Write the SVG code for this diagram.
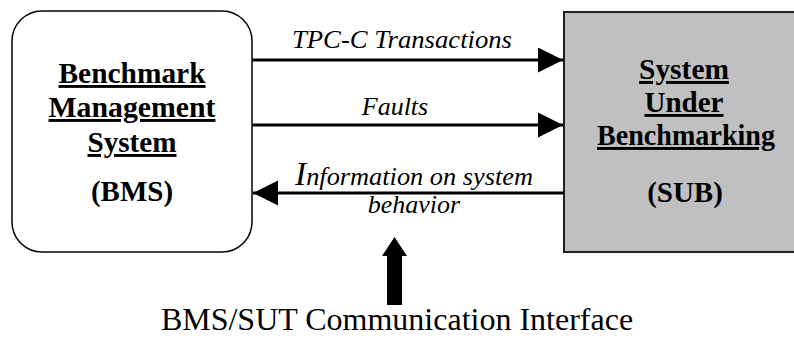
<svg xmlns="http://www.w3.org/2000/svg" width="794" height="338" viewBox="0 0 794 338">
  <style>
    .box-bms { fill: #ffffff; stroke: #000000; stroke-width: 1.5; }
    .box-sub { fill: #c0c0c0; stroke: #222222; stroke-width: 2; }
    .title { font-family: "Liberation Serif", "Times New Roman", serif; font-weight: bold; font-size: 29px; text-anchor: middle; fill: #000; }
    .title-u { text-decoration: underline; }
    .flow { font-family: "Liberation Serif", "Times New Roman", serif; font-style: italic; font-size: 26px; text-anchor: middle; fill: #000; }
    .caption { font-family: "Liberation Serif", "Times New Roman", serif; font-size: 32px; text-anchor: middle; fill: #000; }
    .link { stroke: #000; stroke-width: 3; fill: none; }
  </style>
  <defs>
    <marker id="head" markerUnits="userSpaceOnUse" markerWidth="26" markerHeight="26" refX="25" refY="12.5" orient="auto">
      <path d="M0,0 L25,12.5 L0,25 Z" fill="#000"/>
    </marker>
  </defs>

  <rect width="794" height="338" fill="#ffffff"/>

  <!-- Benchmark Management System -->
  <g id="bms">
    <rect class="box-bms" x="12" y="11" width="240" height="241" rx="30" ry="30"/>
    <text class="title title-u" x="132" y="83" textLength="147" lengthAdjust="spacingAndGlyphs">Benchmark</text>
    <text class="title title-u" x="132" y="117" textLength="167" lengthAdjust="spacingAndGlyphs">Management</text>
    <text class="title title-u" x="132" y="152" textLength="89" lengthAdjust="spacingAndGlyphs">System</text>
    <text class="title" x="132" y="201">(BMS)</text>
  </g>

  <!-- System Under Benchmarking -->
  <g id="sub">
    <rect class="box-sub" x="564" y="12" width="240" height="240"/>
    <text class="title title-u" x="684" y="79" textLength="90" lengthAdjust="spacingAndGlyphs">System</text>
    <text class="title title-u" x="684" y="112">Under</text>
    <text class="title title-u" x="686" y="145" textLength="178" lengthAdjust="spacingAndGlyphs">Benchmarking</text>
    <text class="title" x="685" y="202">(SUB)</text>
  </g>

  <!-- Flows between the two systems -->
  <g id="connectors">
    <line class="link" x1="252" y1="60" x2="563" y2="60" marker-end="url(#head)"/>
    <line class="link" x1="252" y1="125" x2="563" y2="125" marker-end="url(#head)"/>
    <line class="link" x1="564" y1="193" x2="253" y2="193" marker-end="url(#head)"/>
  </g>

  <g id="labels">
    <text class="flow" x="402" y="48" textLength="220" lengthAdjust="spacingAndGlyphs">TPC-C Transactions</text>
    <text class="flow" x="395" y="115">Faults</text>
    <text class="flow" x="414" y="185" textLength="238" lengthAdjust="spacingAndGlyphs"><tspan font-size="33">I</tspan>nformation on system</text>
    <text class="flow" x="414" y="213">behavior</text>
  </g>

  <!-- Communication interface pointer -->
  <g id="interface">
    <path d="M387,305 L387,256 L382,256 L394.5,237 L407,256 L402,256 L402,305 Z" fill="#000"/>
    <text class="caption" x="397" y="330">BMS/SUT Communication Interface</text>
  </g>
</svg>
